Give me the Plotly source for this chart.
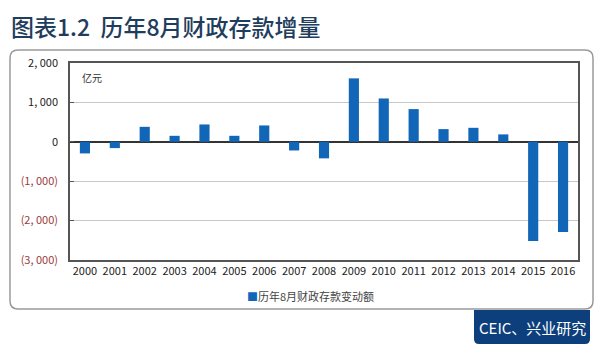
import plotly.graph_objects as go

years = [str(y) for y in range(2000, 2017)]
values = [-295, -160, 380, 152, 440, 152, 415, -220, -420, 1610, 1100, 830, 322, 355, 188, -2520, -2290]
tick_vals = [2000, 1000, 0, -1000, -2000, -3000]
tick_text = ["2, 000", "1, 000", "0",
             "<span style='color:#9b3b3b'>(1, 000)</span>",
             "<span style='color:#9b3b3b'>(2, 000)</span>",
             "<span style='color:#9b3b3b'>(3, 000)</span>"]
series_name = "历年8月财政存款变动额"
title_text = "图表1.2  历年8月财政存款增量"
source_text = "CEIC、兴业研究"
unit_text = "亿元"
bar_color = "#1166b8"

W, H = 600, 353
L, R, T, B = 70, 22, 63, 93
pw, ph = W - L - R, H - T - B

def px(x):
    return (x - L) / pw

def py(y):
    return (H - B - y) / ph

fig = go.Figure()
fig.add_trace(go.Bar(x=years, y=values, name=series_name,
                     marker=dict(color=bar_color, line=dict(width=0)),
                     showlegend=False))

font = "Noto Sans CJK SC, DejaVu Sans, sans-serif"

# rounded outer frame
x0, x1, y0, y1 = px(10), px(593), py(50), py(309)
rx = 8 / pw
ry = 8 / ph
path = (f"M {x0+rx},{y0} L {x1-rx},{y0} Q {x1},{y0} {x1},{y0-ry} "
        f"L {x1},{y1+ry} Q {x1},{y1} {x1-rx},{y1} "
        f"L {x0+rx},{y1} Q {x0},{y1} {x0},{y1+ry} "
        f"L {x0},{y0-ry} Q {x0},{y0} {x0+rx},{y0} Z")
fig.add_shape(type="path", path=path, xref="paper", yref="paper",
              line=dict(color="#9a9a9a", width=1.5), fillcolor="rgba(0,0,0,0)", layer="below")

# source tag
sx0, sx1, sy0, sy1 = px(474), px(590), py(310), py(344)
srx, sry = 5 / pw, 5 / ph
tag = (f"M {sx0},{sy0} L {sx1},{sy0} L {sx1},{sy1+sry} Q {sx1},{sy1} {sx1-srx},{sy1} "
       f"L {sx0+srx},{sy1} Q {sx0},{sy1} {sx0},{sy1+sry} Z")
fig.add_shape(type="path", path=tag, xref="paper", yref="paper",
              line=dict(width=0), fillcolor="#0c3f7c", layer="above")
fig.add_annotation(x=px(532), y=py(327), xref="paper", yref="paper", text=source_text,
                   showarrow=False, font=dict(family=font, size=15, color="white"),
                   xanchor="center", yanchor="middle")

# title
fig.add_annotation(x=px(9), y=py(26), xref="paper", yref="paper", text=title_text,
                   showarrow=False, font=dict(family=font, size=23, color="#1f3d5c", weight=500),
                   xanchor="left", yanchor="middle")

# unit
fig.add_annotation(x=px(80), y=py(77), xref="paper", yref="paper", text=unit_text,
                   showarrow=False, font=dict(family=font, size=10, color="#333333"),
                   xanchor="left", yanchor="middle")

# legend
fig.add_annotation(x=px(310), y=py(296), xref="paper", yref="paper",
                   text=f"<span style='color:{bar_color}'>■</span>{series_name}",
                   showarrow=False, font=dict(family=font, size=11, color="#444444"),
                   xanchor="center", yanchor="middle")

fig.update_layout(
    width=W, height=H,
    margin=dict(l=L, r=R, t=T, b=B),
    paper_bgcolor="white", plot_bgcolor="white",
    bargap=0.66,
    font=dict(family=font, size=11, color="#222222"),
    showlegend=False,
    xaxis=dict(type="category", range=[-0.5, 16.5], showgrid=False,
               showline=True, linecolor="#555555", linewidth=1.5, mirror=True,
               ticks="", tickfont=dict(size=11, color="#222222"), zeroline=False),
    yaxis=dict(range=[-3000, 2000], tickvals=tick_vals, ticktext=tick_text,
               showgrid=True, gridcolor="#c8c8c8", gridwidth=1,
               showline=True, linecolor="#555555", linewidth=1.5, mirror=True,
               ticks="inside", ticklen=4, tickcolor="#555555",
               zeroline=True, zerolinecolor="#333333", zerolinewidth=1.5,
               tickfont=dict(size=11, color="#222222"), ticklabelstandoff=8),
)

fig.write_html("out.html")
